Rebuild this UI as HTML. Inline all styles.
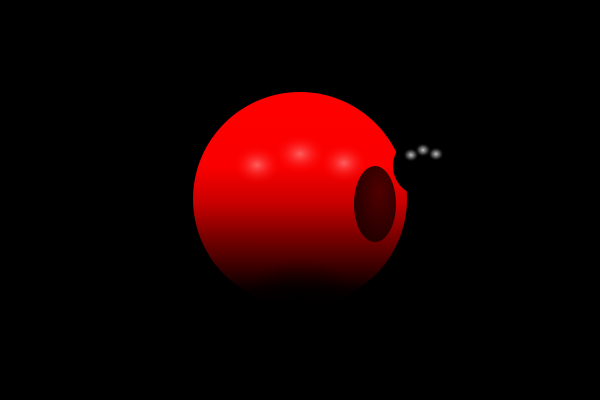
<!DOCTYPE html>
<html><head><meta charset="utf-8"><style>
html,body{margin:0;padding:0;background:#000;width:600px;height:400px;overflow:hidden}
</style></head><body>
<svg width="600" height="400" viewBox="0 0 600 400" xmlns="http://www.w3.org/2000/svg">
<defs>
<linearGradient id="vert" x1="0" y1="0" x2="0" y2="1">
<stop offset="0" stop-color="#ff0000"/>
<stop offset="0.35" stop-color="#fa0000"/>
<stop offset="0.52" stop-color="#c80000"/>
<stop offset="0.68" stop-color="#780000"/>
<stop offset="0.82" stop-color="#380000"/>
<stop offset="0.92" stop-color="#0a0000"/>
<stop offset="1" stop-color="#000"/>
</linearGradient>
<radialGradient id="hl" cx="0.5" cy="0.5" r="0.5">
<stop offset="0" stop-color="#ff8080" stop-opacity="0.75"/>
<stop offset="1" stop-color="#ff0000" stop-opacity="0"/>
</radialGradient>
<radialGradient id="dip" cx="0.5" cy="0.5" r="0.5">
<stop offset="0" stop-color="#000" stop-opacity="0.8"/>
<stop offset="1" stop-color="#000" stop-opacity="0"/>
</radialGradient>
<radialGradient id="hole" cx="0.6" cy="0.35" r="0.7">
<stop offset="0" stop-color="#500000"/>
<stop offset="1" stop-color="#200000"/>
</radialGradient>
<radialGradient id="ghl" cx="0.5" cy="0.5" r="0.5">
<stop offset="0" stop-color="#c8c8c8"/>
<stop offset="0.5" stop-color="#808080" stop-opacity="0.6"/>
<stop offset="1" stop-color="#000" stop-opacity="0"/>
</radialGradient>
</defs>
<rect width="600" height="400" fill="#000"/>
<g>
<circle cx="300" cy="199" r="107" fill="url(#vert)"/>
<ellipse cx="300" cy="300" rx="60" ry="40" fill="url(#dip)"/>
<ellipse cx="257" cy="165" rx="24" ry="20" fill="url(#hl)"/>
<ellipse cx="300" cy="154" rx="26" ry="20" fill="url(#hl)"/>
<ellipse cx="344" cy="163" rx="24" ry="20" fill="url(#hl)"/>
</g>
<ellipse cx="375" cy="204" rx="21" ry="38" fill="url(#hole)"/>
<g>
<circle cx="423" cy="166" r="30" fill="#000"/>
<ellipse cx="411" cy="155" rx="8" ry="7" fill="url(#ghl)"/>
<ellipse cx="423" cy="150" rx="8" ry="7" fill="url(#ghl)"/>
<ellipse cx="436" cy="154" rx="8" ry="7" fill="url(#ghl)"/>
</g>
</svg>
</body></html>
